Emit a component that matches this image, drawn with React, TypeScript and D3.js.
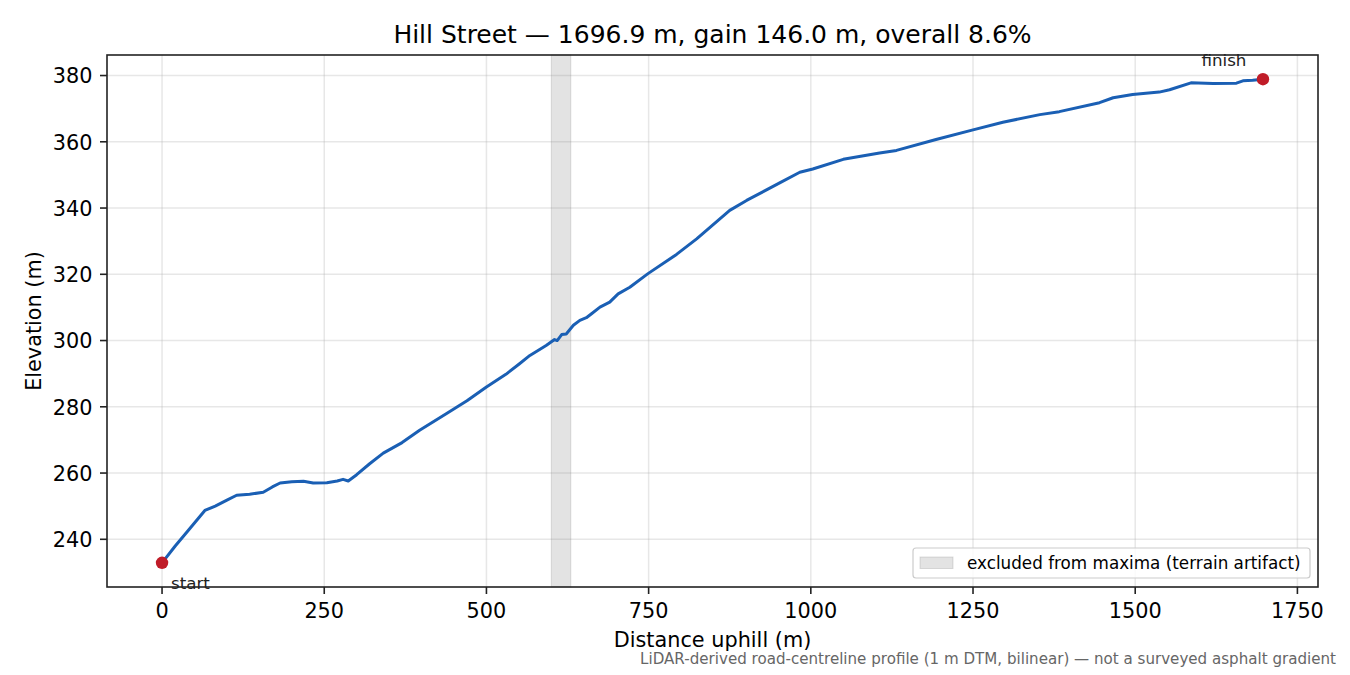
import * as d3 from 'd3';

// distance uphill (m) and elevation (m)
const distance = [0, 20, 40, 66, 82, 100, 115, 135, 156, 170, 182, 200, 218, 233, 254, 270, 279, 287, 300, 320, 341, 370, 397, 438, 470, 500, 530, 551, 567, 592, 605, 609, 616, 623, 634, 644, 654, 662, 675, 690, 703, 721, 749, 793, 824, 875, 901, 952, 983, 1003, 1050, 1106, 1132, 1193, 1250, 1296, 1353, 1383, 1445, 1466, 1496, 1537, 1553, 1586, 1620, 1656, 1666, 1681, 1696.9];
const elevation = [232.9, 237.9, 242.6, 248.7, 250.0, 251.8, 253.3, 253.6, 254.2, 255.8, 257.0, 257.4, 257.5, 257.0, 257.1, 257.6, 258.1, 257.6, 259.5, 262.8, 266.0, 269.2, 272.9, 277.9, 281.8, 286.0, 289.8, 293.0, 295.5, 298.5, 300.3, 300.0, 301.8, 302.0, 304.6, 306.1, 306.9, 308.1, 310.1, 311.6, 314.1, 316.1, 320.2, 326.0, 330.7, 339.3, 342.3, 347.6, 350.8, 351.8, 354.7, 356.6, 357.4, 360.7, 363.6, 365.9, 368.2, 369.1, 371.8, 373.3, 374.3, 375.0, 375.7, 377.8, 377.6, 377.7, 378.4, 378.6, 378.9];

const excludedSpan = [600, 630];
const xTicks = [0, 250, 500, 750, 1000, 1250, 1500, 1750];
const yTicks = [240, 260, 280, 300, 320, 340, 360, 380];

const titleText = 'Hill Street — 1696.9 m, gain 146.0 m, overall 8.6%';
const footnote = 'LiDAR-derived road-centreline profile (1 m DTM, bilinear) — not a surveyed asphalt gradient';
const legendLabel = 'excluded from maxima (terrain artifact)';

const W = 1350;
const H = 675;
const plot = { left: 107, right: 1318, top: 55, bottom: 587 };
const font = 'DejaVu Sans, sans-serif';
const lineColor = '#1a5fb4';
const pointColor = '#c01c28';

export default function App() {
  const n = distance.length;
  const xMin = d3.min(distance)!;
  const xMax = d3.max(distance)!;
  const yMin = d3.min(elevation)!;
  const yMax = d3.max(elevation)!;
  const padX = (xMax - xMin) * 0.05;
  const padY = (yMax - yMin) * 0.05;

  const x = d3.scaleLinear().domain([xMin - padX, xMax + padX]).range([plot.left, plot.right]);
  const y = d3.scaleLinear().domain([yMin - padY, yMax + padY]).range([plot.bottom, plot.top]);

  const pts = distance.map((d, i) => [d, elevation[i]] as [number, number]);
  const line = d3.line<[number, number]>().x(d => x(d[0])).y(d => y(d[1]));

  const cx = (plot.left + plot.right) / 2;

  return (
    <svg width={W} height={H} style={{ position: 'absolute', left: 0, top: 0, background: '#fff' }} fontFamily={font}>
      <rect x={0} y={0} width={W} height={H} fill="#fff" />
      <text x={cx} y={43} textAnchor="middle" fontSize={25} fill="#000">{titleText}</text>

      {/* grid */}
      {xTicks.map(t => (
        <line key={'gx' + t} x1={x(t)} x2={x(t)} y1={plot.top} y2={plot.bottom} stroke="#b0b0b0" strokeOpacity={0.3} strokeWidth={1.5} />
      ))}
      {yTicks.map(t => (
        <line key={'gy' + t} x1={plot.left} x2={plot.right} y1={y(t)} y2={y(t)} stroke="#b0b0b0" strokeOpacity={0.3} strokeWidth={1.5} />
      ))}

      {/* excluded span */}
      <rect x={x(excludedSpan[0])} y={plot.top} width={x(excludedSpan[1]) - x(excludedSpan[0])} height={plot.bottom - plot.top}
        fill="#808080" fillOpacity={0.22} stroke="#808080" strokeOpacity={0.25} strokeWidth={1} />

      <path d={line(pts) || ''} fill="none" stroke={lineColor} strokeWidth={3} strokeLinejoin="round" strokeLinecap="round" />

      <circle cx={x(distance[0])} cy={y(elevation[0])} r={6.2} fill={pointColor} />
      <circle cx={x(distance[n - 1])} cy={y(elevation[n - 1])} r={6.2} fill={pointColor} />
      <text x={x(distance[0]) + 9} y={y(elevation[0]) + 26} fontSize={16.7} fill="#222">start</text>
      <text x={x(distance[n - 1]) - 39} y={y(elevation[n - 1]) - 13} fontSize={16.7} fill="#222" textAnchor="middle">finish</text>

      {/* axes frame */}
      <rect x={plot.left} y={plot.top} width={plot.right - plot.left} height={plot.bottom - plot.top} fill="none" stroke="#222" strokeWidth={1.6} />

      {xTicks.map(t => (
        <g key={'xt' + t}>
          <line x1={x(t)} x2={x(t)} y1={plot.bottom} y2={plot.bottom + 7} stroke="#222" strokeWidth={1.6} />
          <text x={x(t)} y={617.5} textAnchor="middle" fontSize={20.8} fill="#000">{t}</text>
        </g>
      ))}
      {yTicks.map(t => (
        <g key={'yt' + t}>
          <line x1={plot.left - 7} x2={plot.left} y1={y(t)} y2={y(t)} stroke="#222" strokeWidth={1.6} />
          <text x={92.5} y={y(t) + 7.8} textAnchor="end" fontSize={20.8} fill="#000">{t}</text>
        </g>
      ))}

      <text x={cx} y={646.5} textAnchor="middle" fontSize={20.8} fill="#000">Distance uphill (m)</text>
      <text transform={`translate(41, ${(plot.top + plot.bottom) / 2}) rotate(-90)`} textAnchor="middle" fontSize={20.8} fill="#000">Elevation (m)</text>

      {/* legend */}
      <g>
        <rect x={913} y={548} width={397} height={30} rx={3} fill="#fff" fillOpacity={0.8} stroke="#ccc" strokeWidth={1.2} />
        <rect x={920} y={557} width={33} height={11.5} fill="#808080" fillOpacity={0.22} stroke="#808080" strokeOpacity={0.25} />
        <text x={967} y={569} fontSize={16.8} fill="#000">{legendLabel}</text>
      </g>

      <text x={1336} y={664} textAnchor="end" fontSize={15.1} fill="#666">{footnote}</text>
    </svg>
  );
}
